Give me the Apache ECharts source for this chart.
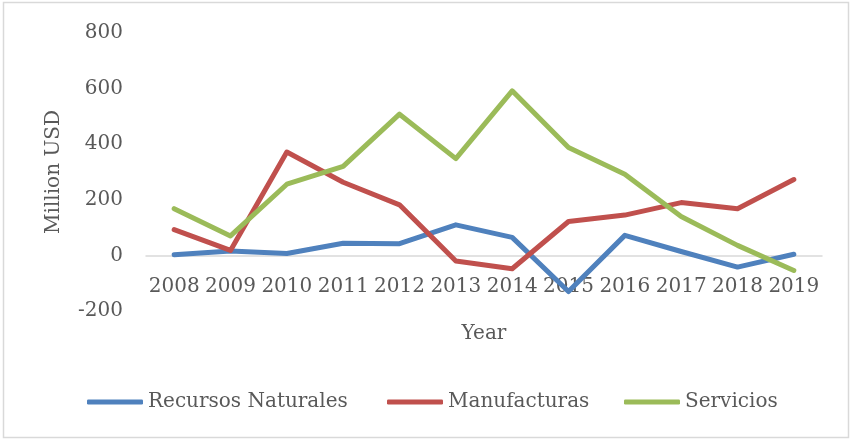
<!DOCTYPE html>
<html>
<head>
<meta charset="utf-8">
<script src="https://cdn.jsdelivr.net/npm/echarts@6/dist/echarts.min.js"></script>
<style>
  html, body { margin: 0; padding: 0; background: #fff; }
  #chart { width: 850px; height: 439px; }
</style>
</head>
<body>
<div id="chart"></div>
<script>
// Inversión por sector, millones de USD
const years = ['2008', '2009', '2010', '2011', '2012', '2013', '2014', '2015', '2016', '2017', '2018', '2019'];
const recursosNaturales = [2, 16, 7, 44, 42, 110, 65, -130, 72, 14, -42, 4];
const manufacturas = [93, 18, 372, 263, 182, -20, -48, 122, 145, 190, 168, 273];
const servicios = [168, 70, 256, 320, 508, 348, 592, 388, 292, 140, 36, -54];
const seriesNames = ['Recursos Naturales', 'Manufacturas', 'Servicios'];
const yTicks = { min: -200, max: 800, interval: 200 };

const FONT = 'DejaVu Serif';
const TEXT = '#595959';
const colors = ['#4F81BD', '#C0504D', '#9BBB59'];
const GRID = { left: 146, right: 28, top: 33, bottom: 128 };
const HEIGHT = 439;

function lineSeries(name, data, color) {
  return {
    name, type: 'line', data,
    symbol: 'none',
    lineStyle: { color, width: 5, cap: 'round', join: 'round' },
    itemStyle: { color },
    emphasis: { disabled: true }
  };
}

// one legend block per series so each entry sits in its own column
const legendLefts = [87, 387, 624];
const legends = seriesNames.map((n, i) => ({
  left: legendLefts[i], top: 392, padding: 0,
  itemWidth: 56, itemHeight: 5,
  icon: 'roundRect',
  textStyle: { fontFamily: FONT, fontSize: 20, color: TEXT },
  data: [n]
}));

const chart = echarts.init(document.getElementById('chart'), null, { renderer: 'canvas' });
chart.setOption({
  animation: false,
  backgroundColor: '#fff',
  textStyle: { fontFamily: FONT, color: TEXT },
  graphic: [{
    type: 'rect', silent: true,
    shape: { x: 3.5, y: 2.5, width: 845, height: 435 },
    style: { fill: 'none', stroke: '#d9d9d9', lineWidth: 1.5 }
  }],
  grid: GRID,
  legend: legends,
  xAxis: {
    type: 'category',
    data: years,
    boundaryGap: true,
    name: 'Year',
    nameLocation: 'middle',
    nameGap: 68,
    nameTextStyle: { fontFamily: FONT, fontSize: 20, color: TEXT },
    axisLine: { onZero: false, lineStyle: { color: '#d9d9d9', width: 1.5 } },
    axisTick: { show: false },
    axisLabel: { fontFamily: FONT, fontSize: 20, color: TEXT, margin: 21, interval: 0 },
    splitLine: { show: false }
  },
  yAxis: {
    type: 'value',
    min: yTicks.min, max: yTicks.max, interval: yTicks.interval,
    name: 'Million USD',
    nameLocation: 'middle',
    nameGap: 82,
    nameTextStyle: { fontFamily: FONT, fontSize: 20, color: TEXT },
    axisLine: { show: false },
    axisTick: { show: false },
    axisLabel: { fontFamily: FONT, fontSize: 20, color: TEXT, margin: 23 },
    splitLine: { show: false }
  },
  series: [
    lineSeries(seriesNames[0], recursosNaturales, colors[0]),
    lineSeries(seriesNames[1], manufacturas, colors[1]),
    lineSeries(seriesNames[2], servicios, colors[2])
  ]
});

// lift the category axis (line, labels and name) up to the zero value
const zeroY = chart.convertToPixel({ yAxisIndex: 0 }, 0);
const gridBottomY = HEIGHT - GRID.bottom;
chart.setOption({ xAxis: { offset: zeroY - gridBottomY } });
</script>
</body>
</html>
